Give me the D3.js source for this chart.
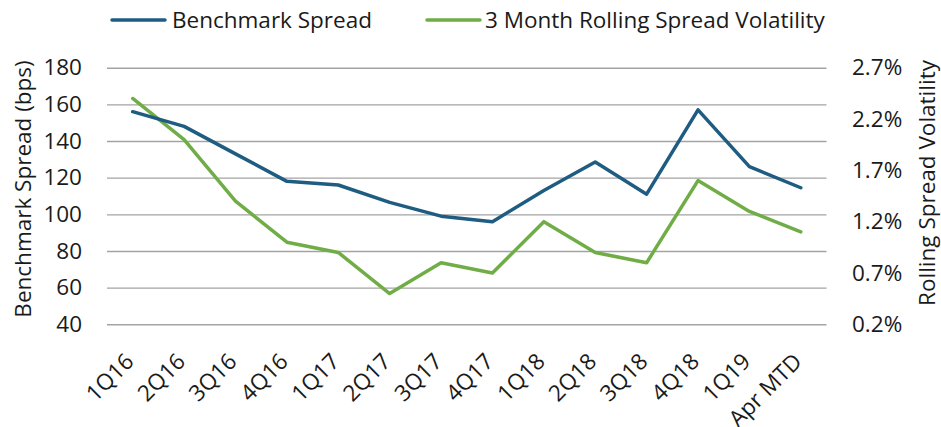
<!DOCTYPE html>
<html>
<head>
<meta charset="utf-8">
<script src="https://cdnjs.cloudflare.com/ajax/libs/d3/7.8.5/d3.min.js"></script>
<style>
  html, body { margin: 0; padding: 0; background: #fff; }
  svg { display: block; }
  text { font-family: "Open Sans", sans-serif; fill: #1a1a1a; }
</style>
</head>
<body>
<svg id="chart" width="941" height="427"></svg>
<script>
// ---- Data ----
const categories = ["1Q16","2Q16","3Q16","4Q16","1Q17","2Q17","3Q17","4Q17","1Q18","2Q18","3Q18","4Q18","1Q19","Apr MTD"];
const benchmarkSpread = [156, 148, 133, 118, 116, 106.5, 99, 96, 113, 128.5, 111, 157, 126, 114.5];
const spreadVolatility = [2.4, 2.0, 1.4, 1.0, 0.9, 0.5, 0.8, 0.7, 1.2, 0.9, 0.8, 1.6, 1.3, 1.1];
const leftTicks = [40, 60, 80, 100, 120, 140, 160, 180];
const rightTicks = [0.2, 0.7, 1.2, 1.7, 2.2, 2.7];
const seriesNames = ["Benchmark Spread", "3 Month Rolling Spread Volatility"];
const leftTitle = "Benchmark Spread (bps)";
const rightTitle = "Rolling Spread Volatility";

// ---- Layout ----
const W = 941, H = 427;
const plotLeft = 107, plotRight = 826.5, plotTop = 67.7, plotBottom = 324.3;
const blue = "#1f5c82", green = "#70ad47";
const fontSize = 22.5;

const svg = d3.select("#chart");

const x = d3.scalePoint().domain(categories).range([plotLeft, plotRight]).padding(0.5);
const yL = d3.scaleLinear().domain([40, 180]).range([plotBottom, plotTop]);
const yR = d3.scaleLinear().domain([0.2, 2.7]).range([plotBottom, plotTop]);

// Gridlines
const grid = svg.append("g").attr("transform", `translate(${plotLeft},0)`)
  .call(d3.axisLeft(yL).tickValues(leftTicks).tickSize(-(plotRight - plotLeft)).tickFormat(""));
grid.select(".domain").remove();
grid.selectAll("line").attr("stroke", "#a3a3a3").attr("stroke-width", 1.4);

// Left axis labels
const la = svg.append("g").attr("transform", `translate(82,0)`)
  .call(d3.axisLeft(yL).tickValues(leftTicks).tickSize(0).tickPadding(0));
la.select(".domain").remove();
la.selectAll("text").style("font-size", fontSize + "px").style("font-family", '"Open Sans", sans-serif').attr("fill", "#1a1a1a");

// Right axis labels
const ra = svg.append("g").attr("transform", `translate(852,0)`)
  .call(d3.axisRight(yR).tickValues(rightTicks).tickSize(0).tickPadding(0).tickFormat(d => d.toFixed(1) + "%"));
ra.select(".domain").remove();
ra.selectAll("text").style("font-size", fontSize + "px").style("font-family", '"Open Sans", sans-serif').attr("fill", "#1a1a1a");

// X labels
const xa = svg.append("g").attr("transform", `translate(0,0)`)
  .call(d3.axisBottom(x).tickSize(0).tickPadding(0));
xa.select(".domain").remove();
xa.selectAll(".tick").attr("transform", null);
xa.selectAll(".tick text")
  .attr("y", null).attr("dy", null)
  .attr("text-anchor", "end")
  .attr("transform", d => `translate(${x(d) + 2.5},363) rotate(-45)`)
  .style("font-size", fontSize + "px").style("font-family", '"Open Sans", sans-serif').attr("fill", "#1a1a1a");

// Lines
const lineL = d3.line().x((d, i) => x(categories[i])).y(d => yL(d));
const lineR = d3.line().x((d, i) => x(categories[i])).y(d => yR(d));

svg.append("path").datum(spreadVolatility)
  .attr("d", lineR).attr("fill", "none").attr("stroke", green)
  .attr("stroke-width", 3.5).attr("stroke-linejoin", "round").attr("stroke-linecap", "round");
svg.append("path").datum(benchmarkSpread)
  .attr("d", lineL).attr("fill", "none").attr("stroke", blue)
  .attr("stroke-width", 3.5).attr("stroke-linejoin", "round").attr("stroke-linecap", "round");

// Axis titles
svg.append("text").attr("transform", `translate(31,189) rotate(-90)`)
  .attr("text-anchor", "middle").style("font-size", fontSize + "px").text(leftTitle);
svg.append("text").attr("transform", `translate(935,183) rotate(-90)`)
  .attr("text-anchor", "middle").style("font-size", fontSize + "px").text(rightTitle);

// Legend
const legend = [
  { name: seriesNames[0], color: blue, x1: 112, x2: 165, tx: 172 },
  { name: seriesNames[1], color: green, x1: 427, x2: 480, tx: 485 }
];
const lg = svg.append("g");
legend.forEach(l => {
  lg.append("line").attr("x1", l.x1).attr("x2", l.x2).attr("y1", 20).attr("y2", 20)
    .attr("stroke", l.color).attr("stroke-width", 3.5).attr("stroke-linecap", "round");
  lg.append("text").attr("x", l.tx).attr("y", 27.5).style("font-size", fontSize + "px").text(l.name);
});
</script>
</body>
</html>
